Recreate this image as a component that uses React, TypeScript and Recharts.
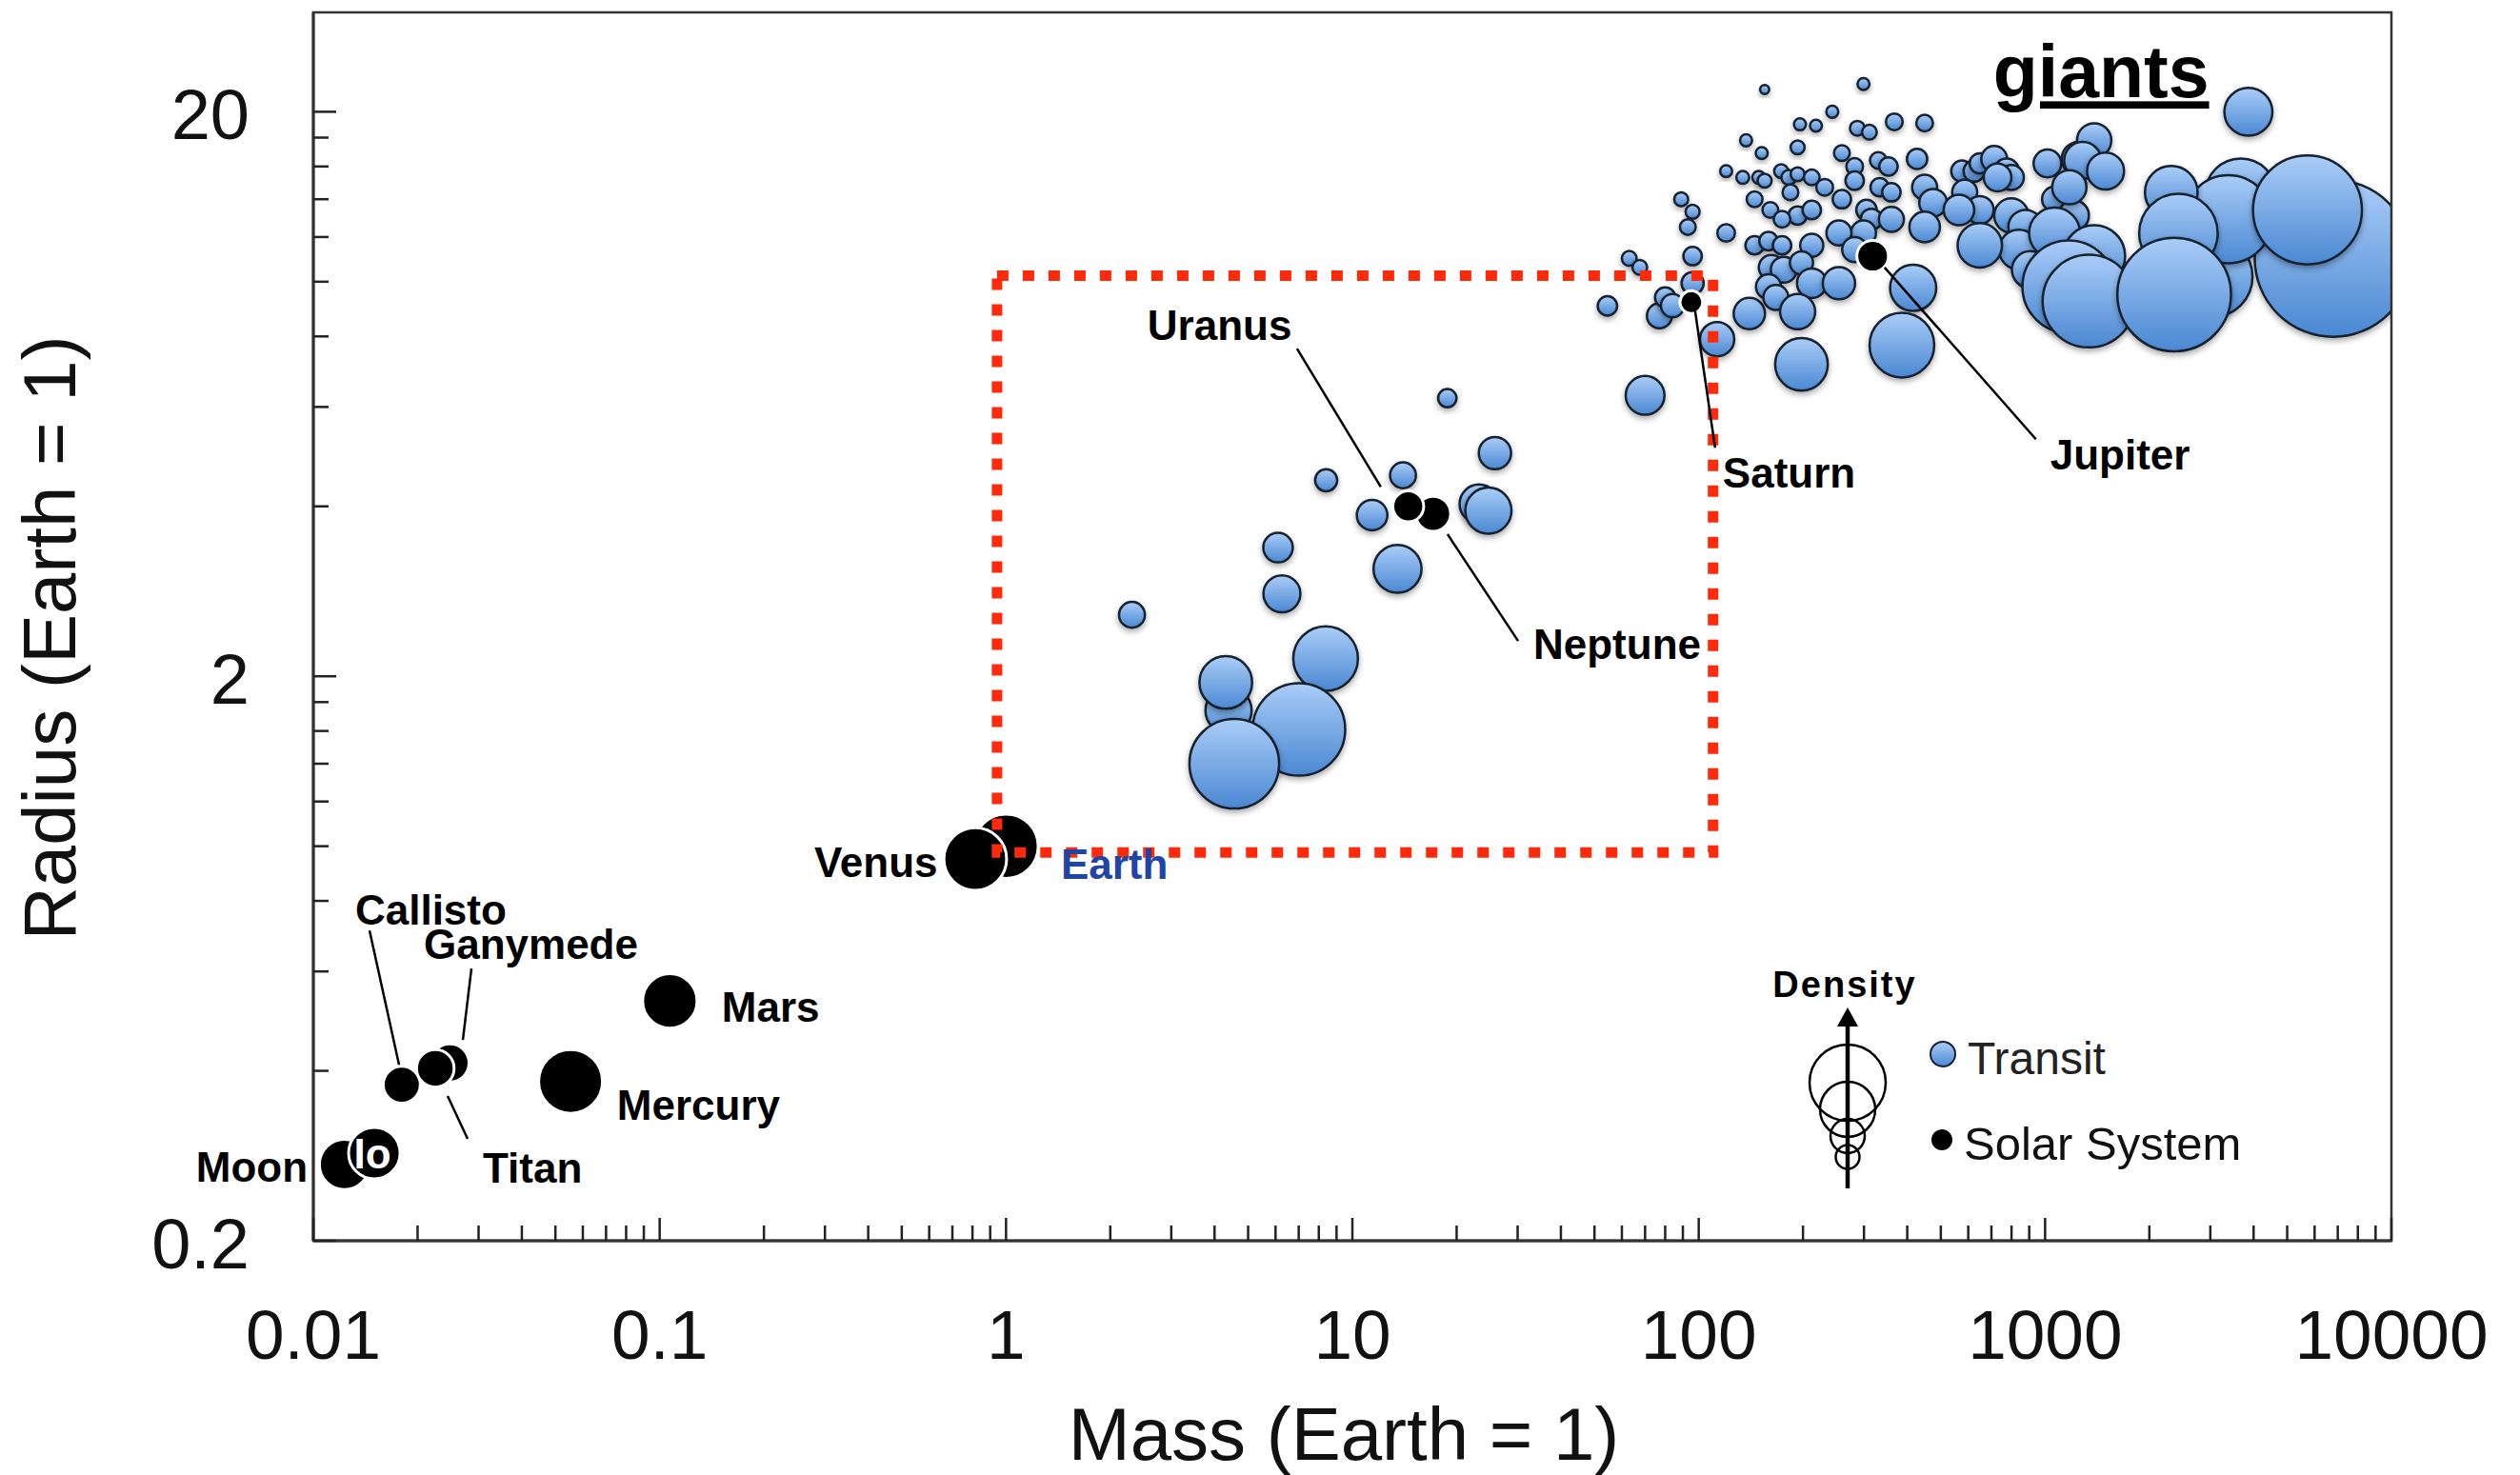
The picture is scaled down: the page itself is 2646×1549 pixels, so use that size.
import React from 'react';
import {
  ScatterChart,
  Scatter,
  XAxis,
  YAxis,
  ZAxis,
  ReferenceArea,
  ReferenceLine,
  ReferenceDot,
} from 'recharts';

const FONT = '"Liberation Sans", Arial, Helvetica, sans-serif';

// ---------- axis ticks ----------
const xTicks = [
  0.01, 0.02, 0.03, 0.04, 0.05, 0.06, 0.07, 0.08, 0.09,
  0.1, 0.2, 0.3, 0.4, 0.5, 0.6, 0.7, 0.8, 0.9,
  1, 2, 3, 4, 5, 6, 7, 8, 9,
  10, 20, 30, 40, 50, 60, 70, 80, 90,
  100, 200, 300, 400, 500, 600, 700, 800, 900,
  1000, 2000, 3000, 4000, 5000, 6000, 7000, 8000, 9000,
  10000,
];
const xTickLabels = [0.01, 0.1, 1, 10, 100, 1000, 10000];
const yTicks = [0.2, 0.4, 0.6, 0.8, 1, 1.2, 1.4, 1.6, 1.8, 2, 4, 6, 8, 10, 12, 14, 16, 18, 20];
const yTickLabels = [0.2, 2, 20];
const xDomain = [0.01, 10000];
const yDomain = [0.2, 30];

// ---------- Transit planets (mass, radius in Earth units; density g/cm3) ----------
const transitMass = [
  8.37, 4.39, 4.31, 7.01, 4.56, 2.31, 6.10, 6.26, 8.4, 11.4, 14.0, 13.5, 18.8, 25.8, 23.2, 24.7,
  70, 54.5, 63, 67.6, 77, 80, 84, 89, 96, 93, 96, 96, 120, 113, 140,
  155, 299, 243, 196, 218, 287, 311, 367, 449, 137, 152, 193, 259, 427,
  120, 134, 149, 155, 173, 182, 193, 212, 282, 330, 353,
  231, 184, 145, 161, 193, 174, 212, 282, 333, 360, 259, 305, 315, 360, 449, 475, 449,
  145, 159, 174, 212, 299, 254, 282, 162, 176, 198, 159, 167, 212, 254, 193, 416, 386, 198,
  575, 624, 648, 713, 774, 799, 729, 586, 648, 564, 799, 878, 1065, 1016, 1209, 1252, 1386, 1284,
  1175, 1495, 840, 907, 648, 1065, 3864,
  6790, 3040, 3673, 3381, 2314, 2427, 5722, 1386, 1170, 1338, 2359,
];
const transitRadius = [
  2.15, 1.74, 1.95, 1.61, 1.40, 2.57, 3.38, 2.80, 4.45, 3.86, 4.54, 3.10, 6.22, 4.97, 4.04, 3.93,
  6.29, 9.06, 11.0, 10.6, 8.70, 9.38, 9.07, 14.0, 13.3, 12.5, 11.1, 9.94, 12.2, 7.91, 8.78,
  21.9, 22.4, 20.0, 19.0, 18.9, 18.7, 18.4, 19.2, 19.1, 17.8, 16.9, 17.3, 16.9, 16.5,
  15.7, 15.3, 15.3, 15.1, 15.7, 15.3, 15.5, 15.3, 16.0, 16.4, 16.0,
  14.7, 14.4, 14.0, 13.4, 13.1, 12.9, 13.4, 15.1, 14.7, 14.4, 14.0, 13.4, 12.9, 12.9, 14.7, 13.8, 12.5,
  11.6, 11.8, 11.6, 11.6, 12.2, 12.2, 11.4, 10.6, 10.5, 10.8, 9.8, 9.38, 9.94, 9.94, 8.85, 9.75, 7.72, 7.14,
  15.7, 15.7, 16.2, 16.5, 15.7, 15.3, 15.3, 14.4, 13.4, 13.4, 13.1, 12.5, 14.0, 16.2, 13.1, 16.5, 17.8, 16.4,
  14.7, 15.7, 11.4, 10.5, 11.6, 12.2, 20.0,
  11.0, 10.2, 14.3, 12.9, 14.4, 12.2, 13.4, 11.1, 9.8, 9.24, 9.49,
];
const transitDensity = [
  5.57, 2.84, 3.69, 11.4, 10.7, 0.89, 1.16, 1.82, 0.65, 1.24, 0.89, 3.07, 0.45, 1.39, 2.0, 2.84,
  2.0, 0.50, 0.29, 0.29, 0.83, 0.55, 0.71, 0.26, 0.26, 0.33, 0.45, 0.65, 0.41, 1.56, 1.31,
  0.11, 0.19, 0.19, 0.19, 0.19, 0.29, 0.29, 0.37, 0.37, 0.19, 0.19, 0.26, 0.33, 0.55,
  0.19, 0.22, 0.22, 0.26, 0.26, 0.29, 0.26, 0.33, 0.37, 0.37, 0.45,
  0.37, 0.33, 0.33, 0.33, 0.45, 0.37, 0.45, 0.45, 0.45, 0.45, 0.45, 0.55, 0.6, 0.83, 0.83, 1.02, 1.24,
  0.45, 0.45, 0.45, 0.71, 0.83, 0.83, 0.83, 0.83, 0.89, 0.71, 0.83, 0.83, 1.16, 1.39, 1.64, 2.84, 5.57, 3.69,
  0.60, 0.60, 0.55, 0.89, 0.83, 0.83, 1.02, 0.83, 1.02, 1.24, 1.56, 1.56, 0.83, 1.02, 1.24, 1.56, 1.56, 1.82,
  1.56, 1.82, 2.10, 1.82, 2.62, 3.44, 3.07,
  32.8, 8.6, 6.74, 10.3, 3.69, 8.2, 15.8, 5.1, 11.4, 11.4, 17.2,
];

// ---------- Solar System bodies ----------
const solarNames = ['Moon', 'Io', 'Callisto', 'Ganymede', 'Titan', 'Mercury', 'Mars', 'Earth', 'Venus', 'Neptune', 'Uranus', 'Saturn', 'Jupiter'];
const solarMass = [0.0123, 0.015, 0.018, 0.0248, 0.0225, 0.0553, 0.107, 1.0, 0.815, 17.1, 14.5, 95.2, 317.8];
const solarRadius = [0.273, 0.286, 0.378, 0.413, 0.404, 0.383, 0.532, 1.0, 0.949, 3.88, 4.0, 9.2, 11.1];
const solarDensity = [3.34, 3.53, 1.83, 1.94, 1.88, 5.43, 3.93, 5.51, 5.24, 1.64, 1.27, 0.69, 1.33];

// ---------- annotations (data coordinates) ----------
const labels = [
  { text: 'Uranus', mass: 2.56, radius: 7.88, anchor: 'start' },
  { text: 'Neptune', mass: 33.3, radius: 2.15, anchor: 'start' },
  { text: 'Saturn', mass: 117.3, radius: 4.32, anchor: 'start' },
  { text: 'Jupiter', mass: 1035, radius: 4.65, anchor: 'start' },
  { text: 'Venus', mass: 0.2794, radius: 0.881, anchor: 'start' },
  { text: 'Earth', mass: 1.44, radius: 0.875, anchor: 'start', color: '#1f45a6' },
  { text: 'Mars', mass: 0.1511, radius: 0.489, anchor: 'start' },
  { text: 'Mercury', mass: 0.0753, radius: 0.3276, anchor: 'start' },
  { text: 'Callisto', mass: 0.01321, radius: 0.726, anchor: 'start' },
  { text: 'Ganymede', mass: 0.02084, radius: 0.631, anchor: 'start' },
  { text: 'Titan', mass: 0.03086, radius: 0.2534, anchor: 'start' },
  { text: 'Moon', mass: 0.00963, radius: 0.2546, anchor: 'end' },
  { text: 'Io', mass: 0.01481, radius: 0.2686, anchor: 'middle', color: '#ffffff' },
  { text: 'giants', mass: 708, radius: 21.2, anchor: 'start', size: 77, underline: true },
];

const leaders = [
  { m1: 6.92, r1: 7.61, m2: 12.08, r2: 4.33 },
  { m1: 18.83, r1: 3.57, m2: 30.1, r2: 2.31 },
  { m1: 97.6, r1: 8.88, m2: 111.5, r2: 5.08 },
  { m1: 344, r1: 10.6, m2: 941, r2: 5.26 },
  { m1: 0.01453, r1: 0.709, m2: 0.01768, r2: 0.41 },
  { m1: 0.02861, r1: 0.607, m2: 0.02702, r2: 0.4537 },
  { m1: 0.02442, r1: 0.361, m2: 0.02789, r2: 0.303 },
];

const focusBox = { m1: 0.942, m2: 110, r1: 0.975, r2: 10.25 };

// ---------- renderers ----------
const XTick = (props: any) => {
  const { x, y, payload } = props;
  const v = payload.value;
  const major = xTickLabels.includes(v);
  return (
    <g>
      <line x1={x} x2={x} y1={y} y2={y - (major ? 24 : 16)} stroke="#222" strokeWidth={2.5} />
      {major && (
        <text x={x} y={y + 124} textAnchor="middle" fontSize={73} fill="#111" fontFamily={FONT}>
          {String(v)}
        </text>
      )}
    </g>
  );
};

const YTick = (props: any) => {
  const { x, y, payload } = props;
  const v = payload.value;
  const major = yTickLabels.includes(v);
  return (
    <g>
      <line x1={x} x2={x + (major ? 24 : 16)} y1={y} y2={y} stroke="#222" strokeWidth={2.5} />
      {major && (
        <text x={x - 67} y={y + 29} textAnchor="end" fontSize={74} fill="#111" fontFamily={FONT}>
          {String(v)}
        </text>
      )}
    </g>
  );
};

const XTitle = (props: any) => {
  const vb = props.viewBox || { x: 329, y: 1303, width: 2182, height: 246 };
  return (
    <text x={vb.x + vb.width / 2 - 9} y={vb.y + 230} textAnchor="middle" fontSize={78} fill="#111" fontFamily={FONT}>
      Mass (Earth = 1)
    </text>
  );
};

const YTitle = (props: any) => {
  const vb = props.viewBox || { x: 0, y: 13, width: 329, height: 1290 };
  const cx = vb.x + 79;
  const cy = vb.y + vb.height / 2 + 12;
  return (
    <text x={cx} y={cy} transform={`rotate(-90 ${cx} ${cy})`} textAnchor="middle" fontSize={78} fill="#111" fontFamily={FONT}>
      Radius (Earth = 1)
    </text>
  );
};

const TransitShape = (p: any) => {
  const r = p.width ? p.width / 2 : Math.sqrt((p.size || 0) / Math.PI);
  return (
    <circle cx={p.cx} cy={p.cy} r={r} fill="url(#bgrad)" stroke="#15212e" strokeWidth={2.5} filter="url(#bshadow)" />
  );
};

const SolarShape = (p: any) => {
  const r = p.width ? p.width / 2 : Math.sqrt((p.size || 0) / Math.PI);
  return <circle cx={p.cx} cy={p.cy} r={r} fill="#000" stroke="#fff" strokeWidth={3} />;
};

export default function App() {
  const transit = transitMass.map((m, i) => ({ mass: m, radius: transitRadius[i], density: transitDensity[i] }));
  const solar = solarNames.map((n, i) => ({ name: n, mass: solarMass[i], radius: solarRadius[i], density: solarDensity[i] }));

  return (
    <div style={{ position: 'absolute', left: 0, top: 0, width: 2646, height: 1549, background: '#fff', fontFamily: FONT }}>
      <svg width={0} height={0} style={{ position: 'absolute' }}>
        <defs>
          <linearGradient id="bgrad" x1="0" y1="0" x2="0" y2="1">
            <stop offset="0" stopColor="#aacdf8" />
            <stop offset="1" stopColor="#4a88d2" />
          </linearGradient>
          <filter id="bshadow" x="-30%" y="-30%" width="160%" height="170%">
            <feDropShadow dx="0" dy="3" stdDeviation="3" floodColor="#000" floodOpacity="0.35" />
          </filter>
        </defs>
      </svg>
      <ScatterChart width={2646} height={1549} margin={{ top: 13, right: 135, bottom: 0, left: 0 }}>
        <XAxis
          dataKey="mass"
          type="number"
          scale="log"
          domain={xDomain}
          allowDataOverflow
          ticks={xTicks}
          interval={0}
          tickSize={0}
          tickMargin={0}
          tickLine={false}
          tick={XTick}
          height={246}
          axisLine={{ stroke: '#222', strokeWidth: 3 }}
          label={{ content: XTitle }}
        />
        <YAxis
          dataKey="radius"
          type="number"
          scale="log"
          domain={yDomain}
          allowDataOverflow
          ticks={yTicks}
          interval={0}
          tickSize={0}
          tickMargin={0}
          tickLine={false}
          tick={YTick}
          width={329}
          axisLine={{ stroke: '#222', strokeWidth: 3 }}
          label={{ content: YTitle }}
        />
        <ZAxis dataKey="density" type="number" domain={[0, 40]} range={[0, 26000]} />
        <Scatter name="Transit" data={transit} isAnimationActive={false} shape={TransitShape} />
        <Scatter name="Solar System" data={solar} isAnimationActive={false} shape={SolarShape} />
        <ReferenceArea
          x1={xDomain[0]}
          x2={xDomain[1]}
          y1={yDomain[0]}
          y2={yDomain[1]}
          fill="none"
          fillOpacity={0}
          stroke="#333"
          strokeWidth={2.5}
          ifOverflow="visible"
          zIndex={650}
        />
        <ReferenceArea
          x1={focusBox.m1}
          x2={focusBox.m2}
          y1={focusBox.r1}
          y2={focusBox.r2}
          fill="none"
          fillOpacity={0}
          stroke="#ff2a0a"
          strokeWidth={11}
          strokeDasharray="12 15"
          ifOverflow="visible"
          zIndex={700}
        />
        {leaders.map((l, i) => (
          <ReferenceLine
            key={'ld' + i}
            segment={[{ x: l.m1, y: l.r1 }, { x: l.m2, y: l.r2 }]}
            stroke="#000"
            strokeWidth={2.5}
            ifOverflow="visible"
            zIndex={800}
          />
        ))}
        {labels.map((lb: any, i) => (
          <ReferenceDot
            key={'lb' + i}
            x={lb.mass}
            y={lb.radius}
            r={1}
            ifOverflow="visible"
            zIndex={900}
            shape={(p: any) => (
              <text
                x={p.cx}
                y={p.cy}
                textAnchor={lb.anchor}
                fontSize={lb.size || 44}
                fontWeight="bold"
                fill={lb.color || '#000'}
                fontFamily={FONT}
                textDecoration={lb.underline ? 'underline' : undefined}
                style={lb.underline ? { textDecoration: 'underline' } : undefined}
              >
                {lb.text}
              </text>
            )}
          />
        ))}
      </ScatterChart>
      <svg width={2646} height={1549} style={{ position: 'absolute', left: 0, top: 0, pointerEvents: 'none' }}>
        <text x={1937} y={1047} textAnchor="middle" fontWeight="bold" fontSize={38} letterSpacing={2} fontFamily={FONT} fill="#000">
          Density
        </text>
        <circle cx={1940} cy={1137} r={40} fill="none" stroke="#000" strokeWidth={2.5} />
        <circle cx={1940} cy={1165} r={29} fill="none" stroke="#000" strokeWidth={2.5} />
        <circle cx={1940} cy={1193} r={18} fill="none" stroke="#000" strokeWidth={2.5} />
        <circle cx={1940} cy={1215} r={12.5} fill="none" stroke="#000" strokeWidth={2.5} />
        <line x1={1940} y1={1248} x2={1940} y2={1074} stroke="#000" strokeWidth={4.5} />
        <polygon points="1940,1058 1929,1078 1951,1078" fill="#000" />
        <circle cx={2040} cy={1107} r={13} fill="url(#bgrad)" stroke="#15212e" strokeWidth={2} />
        <text x={2066} y={1128} fontSize={48} fill="#222" fontFamily={FONT}>Transit</text>
        <circle cx={2039} cy={1197} r={11} fill="#000" />
        <text x={2062} y={1218} fontSize={49} fill="#111" fontFamily={FONT}>Solar System</text>
      </svg>
    </div>
  );
}
